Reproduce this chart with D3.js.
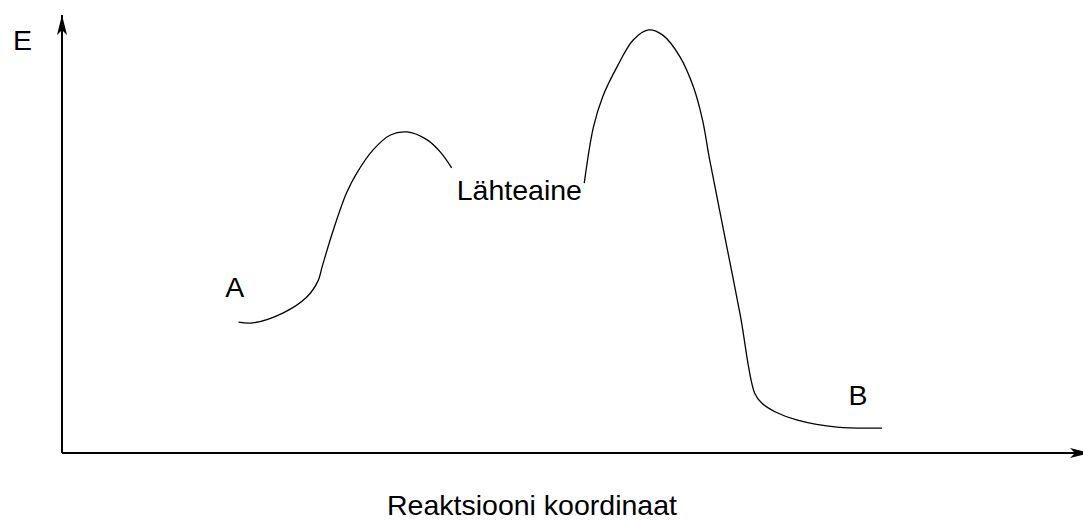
<!DOCTYPE html>
<html>
<head>
<meta charset="utf-8">
<script src="https://cdn.jsdelivr.net/npm/d3@7"></script>
<style>
  body { margin: 0; background: #fff; }
  text { font-family: "Liberation Sans", Arial, sans-serif; font-size: 28.5px; fill: #000; }
</style>
</head>
<body>
<div id="chart"></div>
<script>
// reaction coordinate (0..100) and energy (0..100)
var firstX  = [17.3, 18.7, 21.7, 24.0, 25.1, 25.5, 26.6, 27.9, 28.9, 30.5, 32.2, 33.8, 35.8, 37.1, 38.2];
var firstE  = [29.9, 29.7, 32.0, 35.6, 39.3, 42.5, 50.9, 59.4, 63.9, 69.2, 72.6, 73.3, 71.5, 68.7, 65.1];
var secondX = [51.2, 52.1, 53.0, 54.4, 56.0, 57.5, 58.9, 60.6, 61.9, 62.8, 63.5, 65.0, 66.5, 67.9, 68.6, 70.0, 72.1, 76.0, 80.4];
var secondE = [61.6, 74.4, 81.3, 88.1, 94.3, 96.6, 95.4, 90.4, 83.6, 76.0, 66.9, 49.2, 31.4, 13.7, 11.4, 9.3, 7.5, 5.9, 5.7];

var labels = ["E", "A", "Lähteaine", "B"];
var labelX = [-4.8, 16.0, 38.7, 77.1];
var labelE = [92.0, 35.6, 57.8, 11.0];
var axisTitle = "Reaktsiooni koordinaat";

var width = 1083, height = 520;

var svg = d3.select("#chart").append("svg").attr("width", width).attr("height", height);

var x = d3.scaleLinear().domain([0, 100]).range([62, 1082]);
var y = d3.scaleLinear().domain([0, 100]).range([453, 15]);

// arrow heads (stealth style, like the original drawing)
var defs = svg.append("defs");
defs.append("marker")
    .attr("id", "arrow")
    .attr("viewBox", "0 -5 20 10")
    .attr("refX", 20)
    .attr("refY", 0)
    .attr("markerWidth", 20)
    .attr("markerHeight", 10)
    .attr("markerUnits", "userSpaceOnUse")
    .attr("orient", "auto")
    .append("path")
    .attr("d", "M0,-5 L20,0 L0,5 L5,0 Z")
    .attr("fill", "#000");

// axes
svg.append("line")
    .attr("x1", x(0)).attr("y1", y(0))
    .attr("x2", x(0)).attr("y2", y(100))
    .attr("stroke", "#000").attr("stroke-width", 2)
    .attr("marker-end", "url(#arrow)");

svg.append("line")
    .attr("x1", x(0)).attr("y1", y(0))
    .attr("x2", x(100) + 8).attr("y2", y(0))
    .attr("stroke", "#000").attr("stroke-width", 2)
    .attr("marker-end", "url(#arrow)");

var line = d3.line()
    .x(d => x(d[0]))
    .y(d => y(d[1]))
    .curve(d3.curveCatmullRom.alpha(0.5));

svg.append("path")
    .datum(d3.zip(firstX, firstE))
    .attr("d", line)
    .attr("fill", "none")
    .attr("stroke", "#000")
    .attr("stroke-width", 1.3);

svg.append("path")
    .datum(d3.zip(secondX, secondE))
    .attr("d", line)
    .attr("fill", "none")
    .attr("stroke", "#000")
    .attr("stroke-width", 1.3);

svg.selectAll("text.lbl")
    .data(labels)
    .enter()
    .append("text")
    .attr("class", "lbl")
    .attr("x", (d, i) => x(labelX[i]))
    .attr("y", (d, i) => y(labelE[i]))
    .text(d => d);

svg.append("text")
    .attr("x", 387)
    .attr("y", 515)
    .text(axisTitle);
</script>
</body>
</html>
